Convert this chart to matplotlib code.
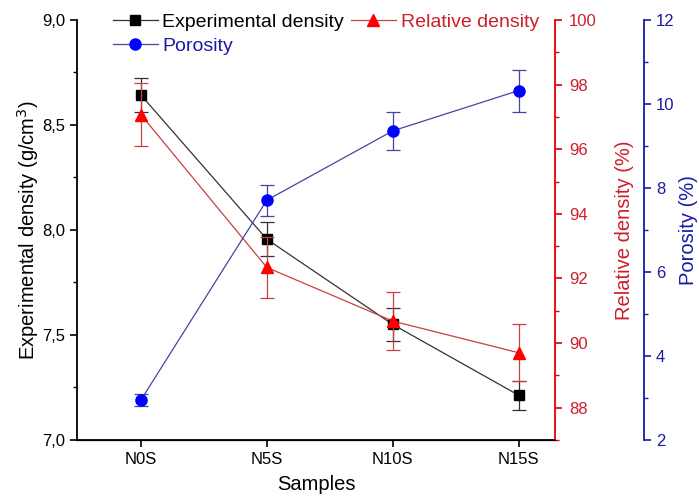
import numpy as np
import matplotlib.pyplot as plt
from matplotlib.ticker import MultipleLocator, FuncFormatter

plt.rcParams['font.family'] = ['Liberation Sans', 'DejaVu Sans']

samples = ['N0S', 'N5S', 'N10S', 'N15S']
exp_density = [8.643, 7.956, 7.55, 7.213]
exp_density_err = [0.08, 0.08, 0.077, 0.07]
rel_density = [97.07, 92.34, 90.68, 89.70]
rel_density_err = [0.97, 0.95, 0.9, 0.88]
porosity = [2.95, 7.71, 9.36, 10.32]
porosity_err = [0.14, 0.37, 0.45, 0.5]

red = '#e00000'
red_txt = '#cc1f2a'
blue = '#1a1aa6'

x = np.arange(len(samples))

fig = plt.figure(figsize=(6.99, 4.97), dpi=100)
ax = fig.add_axes([0.110, 0.1147, 0.684, 0.8451])
ax2 = ax.twinx()
ax3 = ax.twinx()
# 89 px at 100 dpi -> points
ax3.spines['right'].set_position(('outward', 89 * 72 / 100))

l1 = ax.errorbar(x, exp_density, yerr=exp_density_err, color='#333333', lw=0.9,
                 marker='s', ms=7, mfc='black', mec='black', capsize=5,
                 elinewidth=0.9, capthick=0.9)
l2 = ax2.errorbar(x, rel_density, yerr=rel_density_err, color='#c84040', lw=0.9,
                  marker='^', ms=9, mfc='#ff0000', mec='#ff0000', capsize=5,
                  elinewidth=0.9, capthick=0.9)
l3 = ax3.errorbar(x, porosity, yerr=porosity_err, color='#4545a0', lw=0.9,
                  marker='o', ms=8, mfc='#0000ff', mec='#0000ff', capsize=5,
                  elinewidth=0.9, capthick=0.9)

ax.set_xlim(-0.508, 3.288)
ax.set_ylim(7.0, 9.0)
ax2.set_ylim(87, 100)
ax3.set_ylim(2, 12)

comma = FuncFormatter(lambda v, p: ('%.1f' % v).replace('.', ','))
ax.yaxis.set_major_locator(MultipleLocator(0.5))
ax.yaxis.set_minor_locator(MultipleLocator(0.25))
ax.yaxis.set_major_formatter(comma)
ax2.yaxis.set_major_locator(MultipleLocator(2))
ax2.yaxis.set_minor_locator(MultipleLocator(1))
ax3.yaxis.set_major_locator(MultipleLocator(2))
ax3.yaxis.set_minor_locator(MultipleLocator(1))

ax.set_xticks(x)
ax.set_xticklabels(samples)

for a in (ax, ax2, ax3):
    a.spines['top'].set_visible(False)
ax.spines['right'].set_visible(False)
ax2.spines['left'].set_visible(False)
ax3.spines['left'].set_visible(False)
ax.spines['left'].set_linewidth(1.3)
ax.spines['bottom'].set_linewidth(1.3)
ax2.spines['right'].set_color(red)
ax2.spines['right'].set_linewidth(1.3)
ax3.spines['right'].set_color(blue)
ax3.spines['right'].set_linewidth(1.3)

ax.tick_params(axis='both', which='major', direction='out', length=5, width=1.2, labelsize=12)
ax.tick_params(axis='y', which='minor', direction='out', length=3, width=1.0)
ax2.tick_params(axis='y', which='major', direction='out', length=5, width=1.2, pad=5,
                colors=red, labelcolor=red_txt, labelsize=12)
ax2.tick_params(axis='y', which='minor', direction='out', length=3, width=1.0, colors=red)
ax3.tick_params(axis='y', which='major', direction='out', length=5, width=1.2,
                colors=blue, labelcolor=blue, labelsize=12)
ax3.tick_params(axis='y', which='minor', direction='out', length=3, width=1.0, colors=blue)

ax.set_xlabel('Samples', fontsize=14.5, labelpad=6)
ax.set_ylabel('Experimental density (g/cm$^3$)', fontsize=14.5, labelpad=1)
ax2.set_ylabel('Relative density (%)', fontsize=14.5, color=red_txt, labelpad=13)
ax3.set_ylabel('Porosity (%)', fontsize=14.5, color=blue, labelpad=3)

handles = [l1.lines[0], l3.lines[0], l2.lines[0]]
leg = ax.legend(handles, ['Experimental density', 'Porosity', 'Relative density'],
                ncol=2, frameon=False, fontsize=14, loc='upper left',
                bbox_to_anchor=(0.059, 1.035), handlelength=2.3, handletextpad=0.25,
                columnspacing=0.35, labelspacing=0.35, borderaxespad=0)
for t, c in zip(leg.get_texts(), ['black', blue, red_txt]):
    t.set_color(c)

fig.savefig('out.png', dpi=100)
